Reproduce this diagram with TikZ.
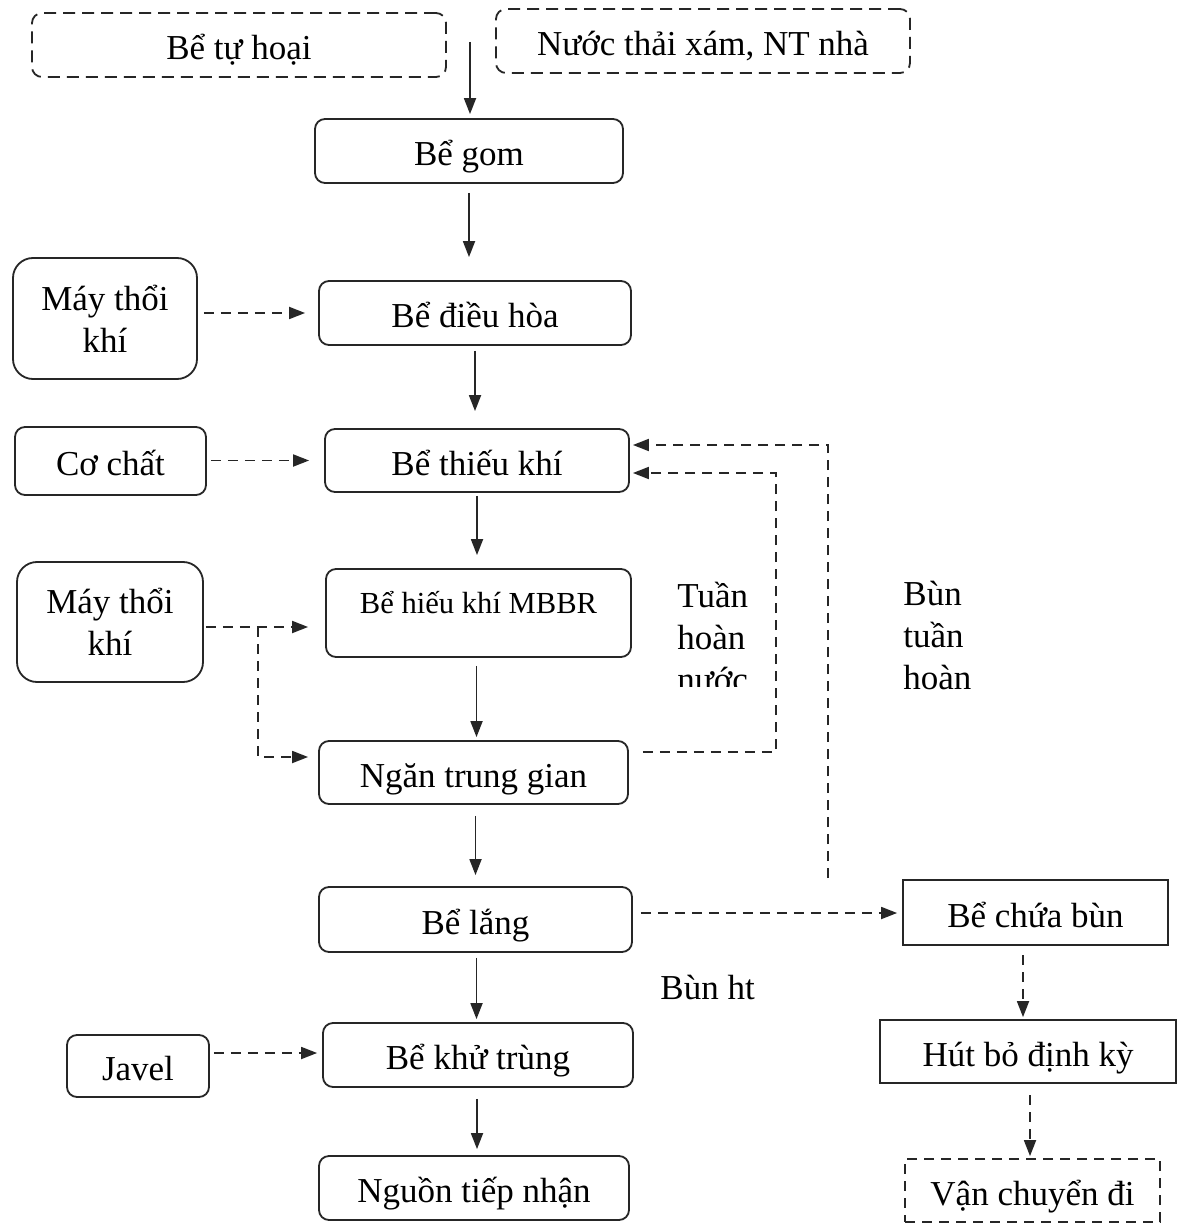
\documentclass[tikz,border=0pt]{standalone}
\usepackage{fontspec}
\setmainfont{Liberation Serif}
\usetikzlibrary{arrows.meta}
\begin{document}
\begin{tikzpicture}[x=0.5pt,y=-0.5pt,
 base/.style={draw=black!85, line width=0.9pt, align=center, inner sep=0pt, font=\fontsize{17.5}{21}\selectfont},
 one/.style={text height=15pt, text depth=0.5pt},
 rbox/.style={base, rounded corners=5pt},
 bigbox/.style={base, rounded corners=10pt},
 dbox/.style={rbox, one, dash pattern=on 6pt off 3.5pt},
 sbox/.style={base, one},
 dsbox/.style={base, one, dash pattern=on 5pt off 3.5pt},
 arr/.style={draw=black!85, line width=0.9pt, -{Triangle[length=8pt,width=6pt]}},
 darr/.style={arr, dash pattern=on 5pt off 3.5pt},
 lbl/.style={font=\fontsize{17.5}{21}\selectfont, inner sep=0pt, align=left}
]
\useasboundingbox (0,0) rectangle (1176,1224);
\fill[white] (0,0) rectangle (1176,1224);

% main column
\node[dbox, minimum width=207pt, minimum height=32pt] (tuhoai) at (239,45) {Bể tự hoại};
\node[dbox, minimum width=207pt, minimum height=32pt] (xam) at (703,41) {Nước thải xám, NT nhà};
\node[rbox, one, minimum width=154pt, minimum height=32pt] (gom) at (469,151) {Bể gom};
\node[rbox, one, minimum width=156pt, minimum height=32pt] (dieuhoa) at (475,313) {Bể điều hòa};
\node[rbox, one, minimum width=152pt, minimum height=31.5pt] (thieukhi) at (477,460.5) {Bể thiếu khí};
\node[rbox, minimum width=152.5pt, minimum height=44pt,
      label={[font=\fontsize{15.3}{18}\selectfont, yshift=5pt]center:Bể hiếu khí MBBR}] (hieukhi) at (478.5,613) {};
\node[rbox, one, minimum width=154.5pt, minimum height=31.5pt] (ngan) at (473.5,772.5) {Ngăn trung gian};
\node[rbox, one, minimum width=156.5pt, minimum height=32.5pt] (lang) at (475.5,919.5) {Bể lắng};
\node[rbox, one, minimum width=155pt, minimum height=32pt] (khutrung) at (478,1055) {Bể khử trùng};
\node[rbox, one, minimum width=155pt, minimum height=32pt] (nguon) at (474,1188) {Nguồn tiếp nhận};

% left inputs
\node[bigbox, minimum width=92pt, minimum height=60.5pt] (may1) at (105,318.5) {Máy thổi\\khí};
\node[rbox, one, minimum width=95.5pt, minimum height=34pt] (cochat) at (110.5,461) {Cơ chất};
\node[bigbox, minimum width=93pt, minimum height=60pt] (may2) at (110,622) {Máy thổi\\khí};
\node[rbox, one, minimum width=71pt, minimum height=31pt] (javel) at (138,1066) {Javel};

% sludge line
\node[sbox, minimum width=132.5pt, minimum height=32.5pt] (chuabun) at (1035.5,912.5) {Bể chứa bùn};
\node[sbox, minimum width=148pt, minimum height=31.5pt] (hutbo) at (1028,1051.5) {Hút bỏ định kỳ};
\node[dsbox, minimum width=127.5pt, minimum height=31.5pt] (vanchuyen) at (1032.5,1190.5) {Vận chuyển đi};

% labels
\begin{scope}
\clip (660,560) rectangle (770,686);
\node[lbl, anchor=base west] (tuan) at (677,691) {Tuần\\hoàn\\nước};
\end{scope}
\node[lbl, anchor=base west] (bun) at (903,689) {Bùn\\tuần\\hoàn};
\node[lbl, anchor=base west] (bunht) at (660,999) {Bùn ht};

% main arrows
\coordinate (top) at (470,42);
\draw[arr] (top) -- ([yshift=2pt]top |- gom.north);
\draw[arr] ([yshift=-4.5pt]gom.south) -- ([yshift=11.5pt]gom.south |- dieuhoa.north);
\draw[arr] ([yshift=-2.5pt]dieuhoa.south) -- ([yshift=8.5pt]dieuhoa.south |- thieukhi.north);
\draw[arr] ([yshift=-1.5pt]thieukhi.south) -- ([yshift=6.5pt]thieukhi.south |- hieukhi.north);
\draw[arr] ([xshift=-1pt,yshift=-4pt]hieukhi.south) -- ([xshift=-1pt,yshift=1.5pt]hieukhi.south |- ngan.north);
\draw[arr] ([xshift=1pt,yshift=-5.5pt]ngan.south) -- ([xshift=1pt,yshift=5.5pt]ngan.south |- lang.north);
\draw[arr] ([xshift=0.5pt,yshift=-2.5pt]lang.south) -- ([xshift=0.5pt,yshift=1.5pt]lang.south |- khutrung.north);
\draw[arr] ([xshift=-0.5pt,yshift=-5.5pt]khutrung.south) -- ([xshift=-0.5pt,yshift=3pt]khutrung.south |- nguon.north);

% side dashed arrows
\draw[darr] ([xshift=3pt]may1.east |- dieuhoa.west) -- ([xshift=-6.5pt]dieuhoa.west);
\draw[darr] ([xshift=2pt]cochat.east |- thieukhi.west) -- ([xshift=-7.5pt]thieukhi.west);
\coordinate (m2) at ([xshift=1pt,yshift=-2.5pt]may2.east);
\coordinate (br) at (258,627);
\draw[darr] (m2) -- ([xshift=-8.5pt]hieukhi.west |- m2);
\draw[darr] (br) -- (br |- 0,757) -- ([xshift=-5pt]ngan.west |- 0,757);
\draw[darr] ([xshift=2pt]javel.east |- 0,1053) -- ([xshift=-2.5pt]khutrung.west |- 0,1053);

% recirculation
\draw[darr] ([xshift=7pt]ngan.east |- 0,752) -- (776,752) -- (776,473) -- ([xshift=1.5pt]thieukhi.east |- 0,473);
\draw[darr] (828,878) -- (828,445) -- ([xshift=1.5pt]thieukhi.east |- 0,445);

% sludge
\draw[darr] ([xshift=4pt]lang.east |- 0,913) -- ([xshift=-2.5pt]chuabun.west |- 0,913);
\draw[darr] (1023,955) -- ([yshift=1pt]1023,0 |- hutbo.north);
\draw[darr] (1030,1095) -- ([yshift=1pt]1030,0 |- vanchuyen.north);
\end{tikzpicture}
\end{document}
